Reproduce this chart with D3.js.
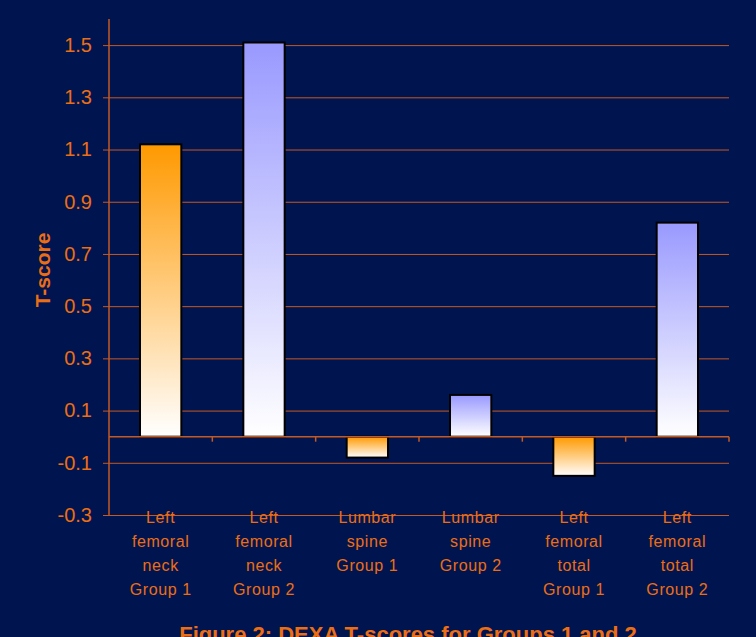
<!DOCTYPE html>
<html>
<head>
<meta charset="utf-8">
<script src="https://cdn.jsdelivr.net/npm/d3@7"></script>
<style>
  body { margin:0; background:#001450; }
  svg { display:block; font-family:Arial, "Liberation Sans", sans-serif; }
</style>
</head>
<body>
<div id="chart"></div>
<script>
// values
var categories = [
  ['Left','femoral','neck','Group 1'],
  ['Left','femoral','neck','Group 2'],
  ['Lumbar','spine','Group 1'],
  ['Lumbar','spine','Group 2'],
  ['Left','femoral','total','Group 1'],
  ['Left','femoral','total','Group 2']
];
var tScores = [1.12, 1.51, -0.08, 0.16, -0.15, 0.82];
var groups = [1, 2, 1, 2, 1, 2];
var yTicks = [-0.3, -0.1, 0.1, 0.3, 0.5, 0.7, 0.9, 1.1, 1.3, 1.5];

var width = 756, height = 637;
var margin = {t:19, r:27, b:122, l:109};
var plotWidth = width - margin.l - margin.r,
    plotHeight = height - margin.t - margin.b;
var orange = '#ec6e14', gridCol = '#c45a22';

var svg = d3.select('#chart').append('svg')
    .attr('width', width)
    .attr('height', height);

svg.append('rect').attr('width', width).attr('height', height).attr('fill', '#001450');

var defs = svg.append('defs');
var gradColors = {1:'#ff9900', 2:'#9999ff'};
[1,2].forEach(function(g){
    var lg = defs.append('linearGradient')
        .attr('id','grad'+g)
        .attr('x1',0).attr('y1',0).attr('x2',0).attr('y2',1);
    lg.append('stop').attr('offset','0%').attr('stop-color',gradColors[g]);
    lg.append('stop').attr('offset','100%').attr('stop-color','#ffffff');
});

var plot = svg.append('g')
    .attr('transform','translate('+margin.l+','+margin.t+')');

var x = d3.scaleBand()
    .domain(d3.range(categories.length))
    .range([0, plotWidth])
    .paddingInner(0.6)
    .paddingOuter(0.3);

var y = d3.scaleLinear()
    .domain([-0.3, 1.6])
    .range([plotHeight, 0]);

// gridlines + y axis
var yAxis = d3.axisLeft(y)
    .tickValues(yTicks)
    .tickSize(-plotWidth)
    .tickPadding(17)
    .tickFormat(function(d){ return d3.format('.1f')(d).replace('\u2212','-'); });

var yg = plot.append('g').call(yAxis);
yg.select('.domain').remove();
yg.selectAll('.tick line')
    .attr('x1', -6)
    .attr('stroke', gridCol)
    .attr('stroke-width', 1);
yg.selectAll('.tick text')
    .attr('fill', orange)
    .style('font-size','20px');

plot.append('line')
    .attr('x1',0).attr('x2',0)
    .attr('y1',0).attr('y2',plotHeight)
    .attr('stroke', gridCol).attr('stroke-width',1.5);

// bars
plot.selectAll('rect.bar')
    .data(tScores)
    .enter().append('rect')
    .attr('class','bar')
    .attr('x', function(d,i){ return x(i); })
    .attr('width', x.bandwidth())
    .attr('y', function(d){ return y(Math.max(0,d)); })
    .attr('height', function(d){ return Math.abs(y(d) - y(0)); })
    .attr('fill', function(d,i){ return 'url(#grad'+groups[i]+')'; })
    .attr('stroke', '#000')
    .attr('stroke-width', 2);

// category axis at zero
plot.append('line')
    .attr('x1',0).attr('x2',plotWidth)
    .attr('y1',y(0)).attr('y2',y(0))
    .attr('stroke', gridCol).attr('stroke-width',1.5);
plot.selectAll('line.cat-tick')
    .data(d3.range(1, categories.length + 1))
    .enter().append('line')
    .attr('class','cat-tick')
    .attr('x1', function(d){ return d * plotWidth / categories.length; })
    .attr('x2', function(d){ return d * plotWidth / categories.length; })
    .attr('y1', y(0)).attr('y2', y(0) + 5)
    .attr('stroke', gridCol).attr('stroke-width',1.5);

// category labels
var labels = plot.selectAll('text.cat')
    .data(categories)
    .enter().append('text')
    .attr('class','cat')
    .attr('text-anchor','middle')
    .attr('fill', orange)
    .style('font-size','16px')
    .style('letter-spacing','0.6px')
    .attr('transform', function(d,i){
        return 'translate('+(x(i) + x.bandwidth()/2)+','+(plotHeight - 3)+')';
    });
labels.selectAll('tspan')
    .data(function(d){ return d; })
    .enter().append('tspan')
    .attr('x', 0)
    .attr('y', function(d,i){ return i * 24; })
    .attr('dy','0.71em')
    .text(function(d){ return d; });

// axis title
svg.append('text')
    .attr('transform','translate(50,270) rotate(-90)')
    .attr('text-anchor','middle')
    .attr('fill', orange)
    .style('font-size','21px')
    .style('font-weight','bold')
    .text('T-score');

// figure caption
svg.append('text')
    .attr('x', 408).attr('y', 642)
    .attr('text-anchor','middle')
    .attr('fill', orange)
    .style('font-size','22px')
    .style('font-weight','bold')
    .text('Figure 2: DEXA T-scores for Groups 1 and 2');
</script>
</body>
</html>
